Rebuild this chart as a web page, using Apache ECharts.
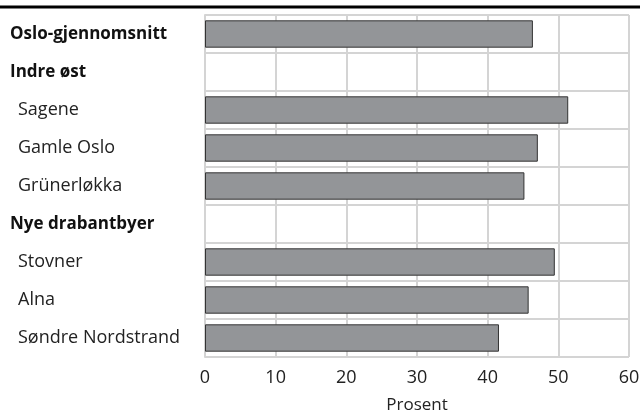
<!DOCTYPE html>
<html><head><meta charset="utf-8">
<script src="https://cdn.jsdelivr.net/npm/echarts@6/dist/echarts.min.js"></script>
<style>html,body{margin:0;padding:0;background:#fff}#c{width:640px;height:416px}</style>
</head><body><div id="c"></div>
<script>
const categories = ['Oslo-gjennomsnitt','Indre øst','Sagene','Gamle Oslo','Grünerløkka','Nye drabantbyer','Stovner','Alna','Søndre Nordstrand'];
const boldCategories = ['Oslo-gjennomsnitt','Indre øst','Nye drabantbyer'];
const values = [46.4, null, 51.4, 47.1, 45.2, null, 49.5, 45.8, 41.6];
const xTicks = [0, 10, 20, 30, 40, 50, 60];

const chart = echarts.init(document.getElementById('c'), null, {renderer:'canvas'});
const font = '"Open Sans", "Noto Sans", sans-serif';
chart.setOption({
  animation:false,
  graphic:[{type:'rect', shape:{x:0,y:5.5,width:640,height:3}, style:{fill:'#000'}}],
  grid:{left:205, right:11, top:15, bottom:59, outerBoundsMode:'none', containLabel:false},
  xAxis:{type:'value', min:xTicks[0], max:xTicks[xTicks.length-1], interval:10,
    name:'Prosent', nameLocation:'middle', nameGap:40,
    nameTextStyle:{fontFamily:font, fontSize:17, color:'#222'},
    axisLine:{show:false}, axisTick:{show:false},
    axisLabel:{fontFamily:font, fontSize:18, color:'#222', margin:12},
    splitLine:{show:true, lineStyle:{color:'#d4d4d4', width:2}}},
  yAxis:{type:'category', data:categories, inverse:true,
    axisLine:{show:true, lineStyle:{color:'#d4d4d4', width:2}}, axisTick:{show:false},
    splitLine:{show:true, interval:0, lineStyle:{color:'#d4d4d4', width:2}},
    axisLabel:{interval:0, align:'left', margin:195,
      formatter:v => boldCategories.includes(v) ? '{b|'+v+'}' : '{n|'+v+'}',
      rich:{b:{fontFamily:font, fontSize:17, fontWeight:'bold', color:'#111'},
            n:{fontFamily:font, fontSize:18, color:'#222', padding:[0,0,0,8]}}}},
  series:[{type:'bar', data:values, barWidth:'72%',
    itemStyle:{color:'#939598', borderColor:'#333', borderWidth:1}}]
});
</script></body></html>
